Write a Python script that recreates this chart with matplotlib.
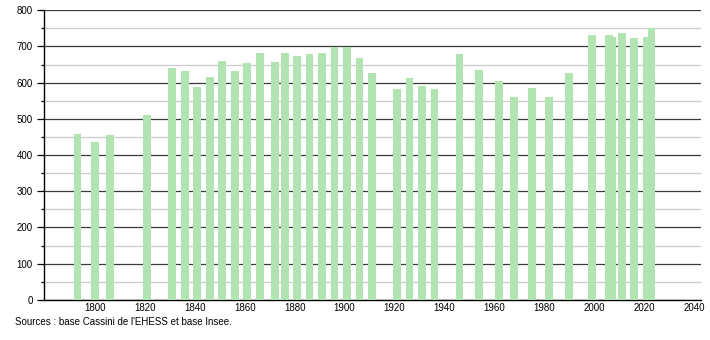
import matplotlib
matplotlib.use("Agg")
import matplotlib.pyplot as plt
from matplotlib.ticker import MultipleLocator

years = [1793, 1800, 1806, 1821, 1831, 1836, 1841, 1846, 1851, 1856,
         1861, 1866, 1872, 1876, 1881, 1886, 1891, 1896, 1901, 1906,
         1911, 1921, 1926, 1931, 1936, 1946, 1954, 1962, 1968, 1975,
         1982, 1990, 1999, 2006, 2007, 2011, 2016, 2021, 2023]
population = [459, 437, 454, 510, 641, 633, 587, 616, 661, 633,
              654, 681, 657, 681, 674, 680, 681, 697, 697, 668,
              627, 582, 612, 591, 582, 679, 635, 605, 560, 586,
              560, 627, 732, 731, 726, 738, 724, 727, 751]
xticks = [1800, 1820, 1840, 1860, 1880, 1900, 1920, 1940, 1960, 1980, 2000, 2020, 2040]
source = "Sources : base Cassini de l'EHESS et base Insee."

plt.rcParams['font.family'] = ['Liberation Sans', 'DejaVu Sans']

fig = plt.figure(figsize=(7.1, 3.4), dpi=100)
ax = fig.add_axes([0.062, 0.118, 0.925, 0.852])

ax.bar(years, population, width=3.1, color='#b2e4b2', zorder=3)

ax.set_xlim(1779.6, 2042.7)
ax.set_ylim(0, 800)
ax.set_xticks(xticks)
ax.yaxis.set_major_locator(MultipleLocator(100))
ax.yaxis.set_minor_locator(MultipleLocator(50))
ax.grid(axis='y', which='major', color='#3a3a3a', linewidth=0.9, zorder=1)
ax.grid(axis='y', which='minor', color='#cccccc', linewidth=0.9, zorder=1)

for s in ['top', 'right']:
    ax.spines[s].set_visible(False)
ax.spines['left'].set_linewidth(1.0)
ax.spines['bottom'].set_linewidth(1.0)
ax.tick_params(axis='x', length=0, labelsize=7, pad=2)
ax.tick_params(axis='y', which='major', length=5, width=0.9, labelsize=7, pad=3)
ax.tick_params(axis='y', which='minor', length=2.5, width=0.9)

fig.text(0.021, 0.052, source, fontsize=7, va='center', ha='left')

fig.savefig("out.png", dpi=100)
